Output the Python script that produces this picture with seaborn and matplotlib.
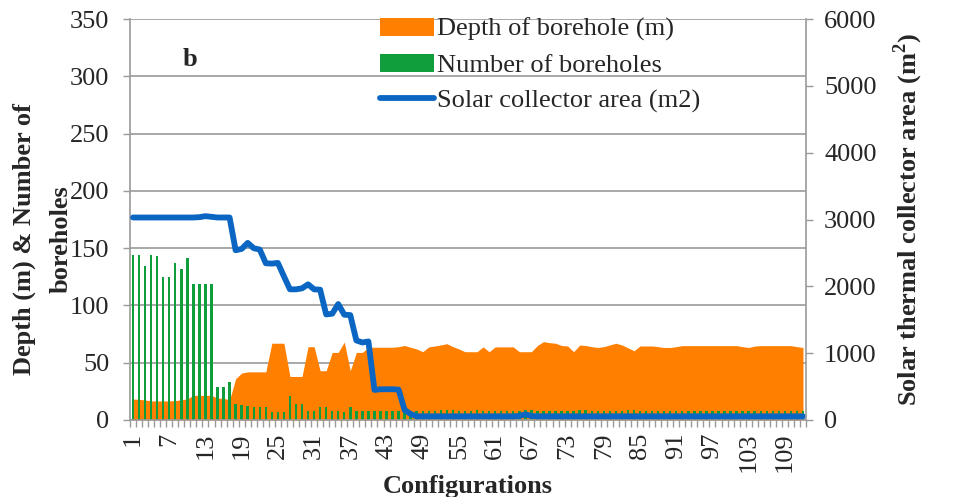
import numpy as np
import pandas as pd
import matplotlib
matplotlib.use("Agg")
import matplotlib.pyplot as plt
import seaborn as sns
from matplotlib.patches import Patch
from matplotlib.lines import Line2D

# ---------------- data ----------------
configs = list(range(1, 113))

depth = [18.3, 18, 17.5, 16.6, 16.6, 16.6, 16.6, 17, 17.5, 18.5,
         21.5, 21.5, 21.5, 21.5, 19, 19, 17.5, 36, 41, 42,
         42, 42, 42, 67, 67, 67, 38, 38, 38, 64,
         64, 43, 43, 59, 59, 68, 43, 59, 59, 63.5,
         63.5, 63.5, 63.5, 63.5, 64, 65, 63.5, 62, 59.6, 63.8,
         64.6, 65.5, 66.6, 64, 62, 59.6, 59.6, 59.6, 63.8, 59.6,
         63.8, 63.8, 63.8, 63.8, 59.6, 59.6, 59.6, 65, 68.4, 67.5,
         67, 65, 64.6, 59.6, 65.4, 65, 64, 63.3, 64, 65.5,
         67, 65.5, 63, 60.4, 64.6, 64.6, 64.6, 64, 63.3, 63.3,
         64, 64.9, 64.9, 64.9, 64.9, 64.9, 64.9, 64.9, 64.9, 64.9,
         64.9, 64, 63.3, 64.5, 64.9, 64.9, 64.9, 64.9, 64.9, 64.9,
         64, 63.3]

number = [144, 144, 134, 144, 143, 125, 125, 137, 132, 141,
          119, 119, 119, 119, 29, 29, 33, 14, 13, 12,
          11, 11, 11, 7, 7, 7, 21, 14, 14, 8,
          8, 11, 11, 8, 8, 7, 11, 8, 8, 8,
          8, 8, 8, 8, 8, 8, 7, 8, 8, 8,
          8, 9, 9, 9, 8, 8, 8, 9, 8, 8,
          8, 8, 8, 8, 8, 9, 9, 8, 8, 8,
          8, 8, 8, 8, 9, 9, 8, 8, 8, 8,
          8, 8, 9, 9, 8, 8, 8, 8, 8, 8,
          8, 8, 8, 8, 8, 8, 8, 8, 8, 8,
          8, 8, 8, 8, 8, 8, 8, 8, 8, 8,
          8, 8]

area = [3030, 3030, 3030, 3030, 3030, 3030, 3030, 3030, 3030, 3030,
        3030, 3035, 3050, 3040, 3030, 3030, 3030, 2540, 2560, 2650,
        2570, 2550, 2345, 2340, 2350, 2150, 1955, 1955, 1970, 2030,
        1955, 1950, 1580, 1590, 1735, 1575, 1570, 1190, 1160, 1175,
        450, 460, 460, 460, 455, 150, 90, 55, 55, 55,
        55, 55, 55, 55, 55, 55, 55, 55, 55, 55,
        55, 55, 55, 55, 60, 85, 60, 55, 55, 55,
        55, 55, 55, 55, 55, 55, 55, 55, 55, 55,
        55, 55, 55, 55, 55, 55, 55, 55, 55, 55,
        55, 55, 55, 55, 55, 55, 55, 55, 55, 55,
        55, 55, 55, 55, 55, 55, 55, 55, 55, 55,
        55, 55]

tick_labels = [str(c) for c in configs[::6]]
left_ticks = [0, 50, 100, 150, 200, 250, 300, 350]
right_ticks = [0, 1000, 2000, 3000, 4000, 5000, 6000]

ORANGE = "#FF7F00"
GREEN = "#109E3C"
BLUE = "#0A66C2"
GRAY = "#9a9a9a"
FS = 19

df = pd.DataFrame({"config": configs, "depth": depth,
                   "number": number, "area": area})
df["pos"] = np.arange(len(df))

# ---------------- style ----------------
sns.set_theme(style="white")
plt.rcParams["font.family"] = ["Liberation Serif", "DejaVu Serif"]
plt.rcParams["mathtext.fontset"] = "custom"
plt.rcParams["mathtext.rm"] = "Liberation Serif"
plt.rcParams["mathtext.bf"] = "Liberation Serif:bold"

fig = plt.figure(figsize=(9.55, 4.97), dpi=100)
L, R, T, B = 130, 806, 19, 420
ax = fig.add_axes([L / 955, 1 - B / 497, (R - L) / 955, (B - T) / 497])

# orange area (depth)
ax.fill_between(df["pos"], df["depth"], 0, color=ORANGE, lw=0, zorder=1.5)

# green bars (number of boreholes)
sns.barplot(data=df, x="pos", y="number", color=GREEN, saturation=1,
            width=0.4, errorbar=None, ax=ax, zorder=2, native_scale=True)
for p in ax.patches:
    p.set_zorder(2)
    p.set_linewidth(0)

ax.set_ylim(0, 350)
ax.set_xlim(-0.5, len(df) - 0.5)
ax.set_yticks(left_ticks)
ax.set_yticklabels([str(v) for v in left_ticks], fontsize=FS)
ax.yaxis.grid(True, color=GRAY, lw=1.2)
ax.xaxis.grid(False)
ax.set_axisbelow(True)

ax.set_xticks(df["pos"][::6])
ax.set_xticklabels(tick_labels, rotation=90, fontsize=FS)
ax.set_xticks(np.arange(-0.5, len(df), 1), minor=True)
ax.tick_params(axis="x", which="major", length=0, pad=9)
ax.tick_params(axis="x", which="minor", length=5, width=1, color=GRAY,
               direction="out", bottom=True)
ax.tick_params(axis="y", which="major", length=5, width=1, color=GRAY,
               direction="out", left=True, pad=10)

for s in ["top", "right"]:
    ax.spines[s].set_visible(False)
for s in ["left", "bottom"]:
    ax.spines[s].set_color(GRAY)
    ax.spines[s].set_linewidth(1.2)

ax.set_xlabel("Configurations", fontsize=FS, fontweight="bold", labelpad=2)
ax.set_ylabel("Depth (m) & Number of\nboreholes", fontsize=FS,
              fontweight="bold", linespacing=1.75)
ax.yaxis.set_label_coords(-0.085, 0.45)

ax.text(9.4, 315, "b", fontsize=FS, fontweight="bold",
        ha="center", va="center")

# blue line on secondary axis
ax2 = ax.twinx()
sns.lineplot(data=df, x="pos", y="area", color=BLUE, lw=4.2, ax=ax2)
for ln in ax2.lines:
    ln.set_solid_capstyle("round")
    ln.set_solid_joinstyle("round")
ax2.set_ylim(0, 6000)
ax2.set_xlim(-0.5, len(df) - 0.5)
ax2.set_yticks(right_ticks)
ax2.set_yticklabels([str(v) for v in right_ticks], fontsize=FS)
ax2.tick_params(axis="y", which="major", length=5, width=1, color=GRAY,
                direction="out", right=True, pad=8)
for s in ["top", "left", "bottom"]:
    ax2.spines[s].set_visible(False)
ax2.spines["right"].set_color(GRAY)
ax2.spines["right"].set_linewidth(1.2)
ax2.grid(False)
ax2.set_xlabel("")
ax2.set_ylabel(r"Solar thermal collector area (m$^\mathbf{2}$)",
               fontsize=FS, fontweight="bold")
ax2.yaxis.set_label_coords(1.127, 0.5)

handles = [Patch(facecolor=ORANGE, edgecolor="none"),
           Patch(facecolor=GREEN, edgecolor="none"),
           Line2D([0], [0], color=BLUE, lw=4.2)]
labels = ["Depth of borehole (m)", "Number of boreholes",
          "Solar collector area (m2)"]
ax2.legend(handles, labels, loc="upper left",
           bbox_to_anchor=(380 / 955, 1 - 18 / 497),
           bbox_transform=fig.transFigure, frameon=False,
           fontsize=FS, handlelength=2.05, handleheight=0.65,
           handletextpad=0.1, labelspacing=0.47, borderpad=0,
           borderaxespad=0)

fig.savefig("out.png", dpi=100)
